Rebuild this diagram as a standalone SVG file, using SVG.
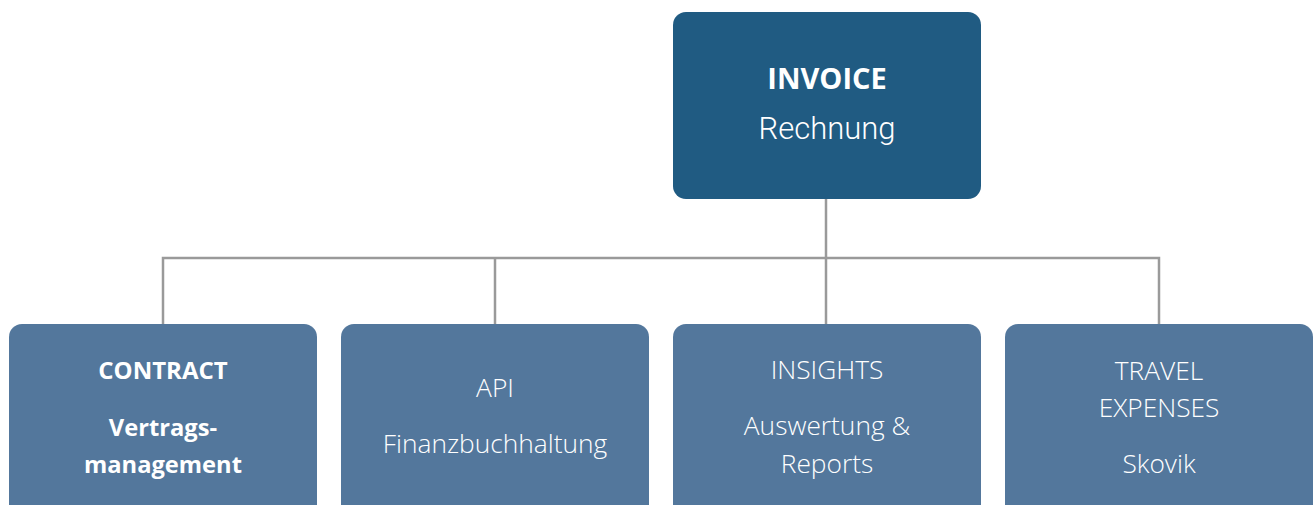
<svg xmlns="http://www.w3.org/2000/svg" width="1314" height="505" viewBox="0 0 1314 505">
<style>
.top{fill:#205b82}
.box{fill:#53779c}
.t{font-family:"Open Sans","Liberation Sans",sans-serif;fill:#ffffff;text-anchor:middle;font-size:26.3px;font-weight:300}
.b{font-weight:bold;font-size:23.7px}
.lt{font-family:Roboto,"Open Sans",sans-serif;font-weight:300;font-size:31px;fill:#ffffff;text-anchor:middle}
.c{stroke:#9a9a9a;stroke-width:2.5;fill:none}
</style>
<g id="connectors">
<path class="c" d="M826 199V258M163 324V258H1159V324M495 258V324M826 258V324"/>
</g>
<g id="invoice">
<rect class="top" x="673" y="12" width="308" height="187" rx="13"/>
<text class="t b" x="827" y="89" style="font-size:29px">INVOICE</text>
<text class="lt" x="827" y="139">Rechnung</text>
</g>
<g id="contract">
<rect class="box" x="9" y="324" width="308" height="200" rx="13"/>
<text class="t b" x="163" y="379" style="font-size:24px">CONTRACT</text>
<text class="t b" x="163" y="436">Vertrags-</text>
<text class="t b" x="163" y="473">management</text>
</g>
<g id="api">
<rect class="box" x="341" y="324" width="308" height="200" rx="13"/>
<text class="t" x="495" y="397">API</text>
<text class="t" x="495" y="453">Finanzbuchhaltung</text>
</g>
<g id="insights">
<rect class="box" x="673" y="324" width="308" height="200" rx="13"/>
<text class="t" x="827" y="379">INSIGHTS</text>
<text class="t" x="827" y="435">Auswertung &amp;</text>
<text class="t" x="827" y="473">Reports</text>
</g>
<g id="travel">
<rect class="box" x="1005" y="324" width="308" height="200" rx="13"/>
<text class="t" x="1159" y="380">TRAVEL</text>
<text class="t" x="1159" y="417">EXPENSES</text>
<text class="t" x="1159" y="473">Skovik</text>
</g>
</svg>
